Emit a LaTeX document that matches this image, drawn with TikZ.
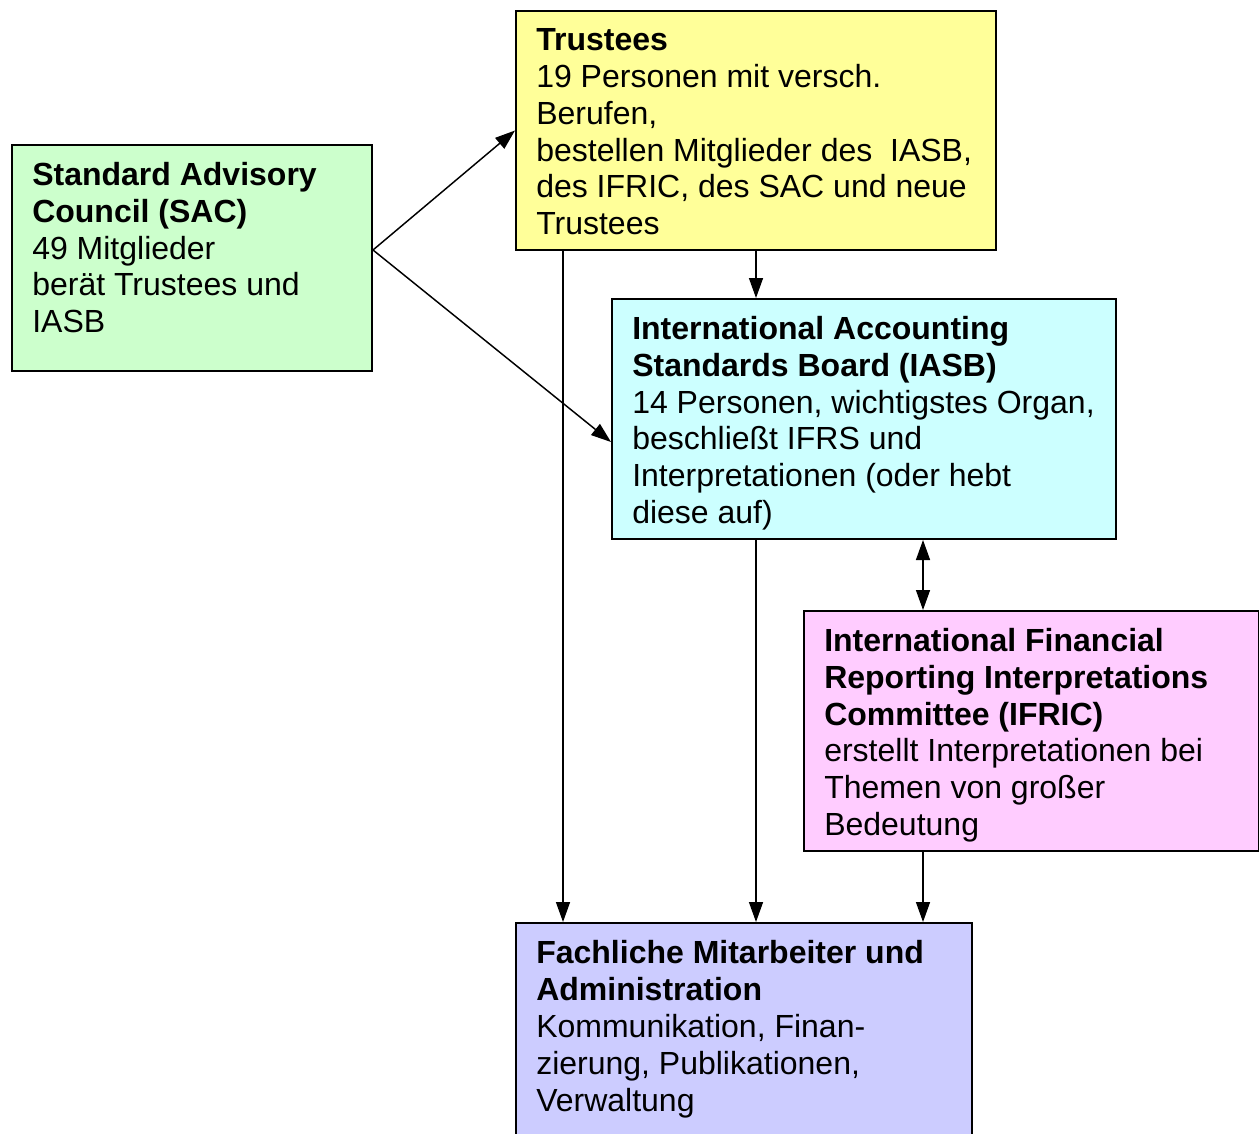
\documentclass[tikz,border=0pt]{standalone}
\usepackage{fontspec}
\setmainfont{Liberation Sans}
\usetikzlibrary{arrows.meta,calc}
\definecolor{cYellow}{HTML}{FFFF99}
\definecolor{cGreen}{HTML}{CCFFCC}
\definecolor{cCyan}{HTML}{CCFFFF}
\definecolor{cPink}{HTML}{FFCCFF}
\definecolor{cLav}{HTML}{CCCCFF}
\begin{document}
\begin{tikzpicture}[x=0.75pt,y=-0.75pt,
  boxstyle/.style={draw=black,line width=1.5pt,anchor=north west,inner sep=0pt},
  txt/.style={anchor=north west,inner sep=0pt,align=left,font=\fontsize{24}{27.6}\selectfont},
  conn/.style={line width=1.1pt,-{Triangle[length=15pt,width=10.5pt]}},
  conn2/.style={line width=1.1pt,{Triangle[length=15pt,width=10.5pt]}-{Triangle[length=15pt,width=10.5pt]}}]
\useasboundingbox (0,0) rectangle (1259,1134);
\begin{scope}
\clip (0,0) rectangle (1259,1134);
\node[boxstyle,fill=cYellow,minimum width=360pt,minimum height=179.25pt] (trustees) at (515,10) {};
\node[boxstyle,fill=cGreen,minimum width=270pt,minimum height=169.5pt] (sac) at (11,144) {};
\node[boxstyle,fill=cCyan,minimum width=378pt,minimum height=180pt] (iasb) at (611,298) {};
\node[boxstyle,fill=cPink,minimum width=341.25pt,minimum height=180pt] (ifric) at (803,610) {};
\node[boxstyle,fill=cLav,minimum width=342pt,minimum height=180pt] (fach) at (515,922) {};
\end{scope}

\node[txt] (tTrustees) at ($(trustees.north west)+(21,18.5)$) {\textbf{Trustees}\\19 Personen mit versch.\\Berufen,\\bestellen Mitglieder des~~IASB,\\des IFRIC, des SAC und neue\\Trustees};
\node[txt] (tSac) at ($(sac.north west)+(21,18)$) {\textbf{Standard Advisory}\\\textbf{Council (SAC)}\\49 Mitglieder\\berät Trustees und\\IASB};
\node[txt] (tIasb) at ($(iasb.north west)+(21,18)$) {\textbf{International Accounting}\\\textbf{Standards Board (IASB)}\\14 Personen, wichtigstes Organ,\\beschließt IFRS und\\Interpretationen (oder hebt\\diese auf)};
\node[txt] (tIfric) at ($(ifric.north west)+(21,18)$) {\textbf{International Financial}\\\textbf{Reporting Interpretations}\\\textbf{Committee (IFRIC)}\\erstellt Interpretationen bei\\Themen von großer\\Bedeutung};
\node[txt] (tFach) at ($(fach.north west)+(21,18.5)$) {\textbf{Fachliche Mitarbeiter und}\\\textbf{Administration}\\Kommunikation, Finan-\\zierung, Publikationen,\\Verwaltung};

\coordinate (sacOut) at ($(sac.east)+(0,-8)$);
\draw[conn] (sacOut) -- (trustees.west);
\draw[conn] (sacOut) -- ($(iasb.west)+(0,23)$);
\draw[conn] (trustees.south) -- (trustees.south |- iasb.north);
\coordinate (tLeft) at ($(trustees.south west)+(48,0)$);
\draw[conn] (tLeft) -- (tLeft |- fach.north);
\draw[conn] (iasb.south -| trustees.south) -- (fach.north -| trustees.south);
\coordinate (ifTop) at ($(ifric.north west)+(120,0)$);
\draw[conn2] (ifTop |- iasb.south) -- (ifTop);
\coordinate (ifBot) at ($(ifric.south west)+(120,0)$);
\draw[conn] (ifBot) -- (ifBot |- fach.north);
\end{tikzpicture}
\end{document}
